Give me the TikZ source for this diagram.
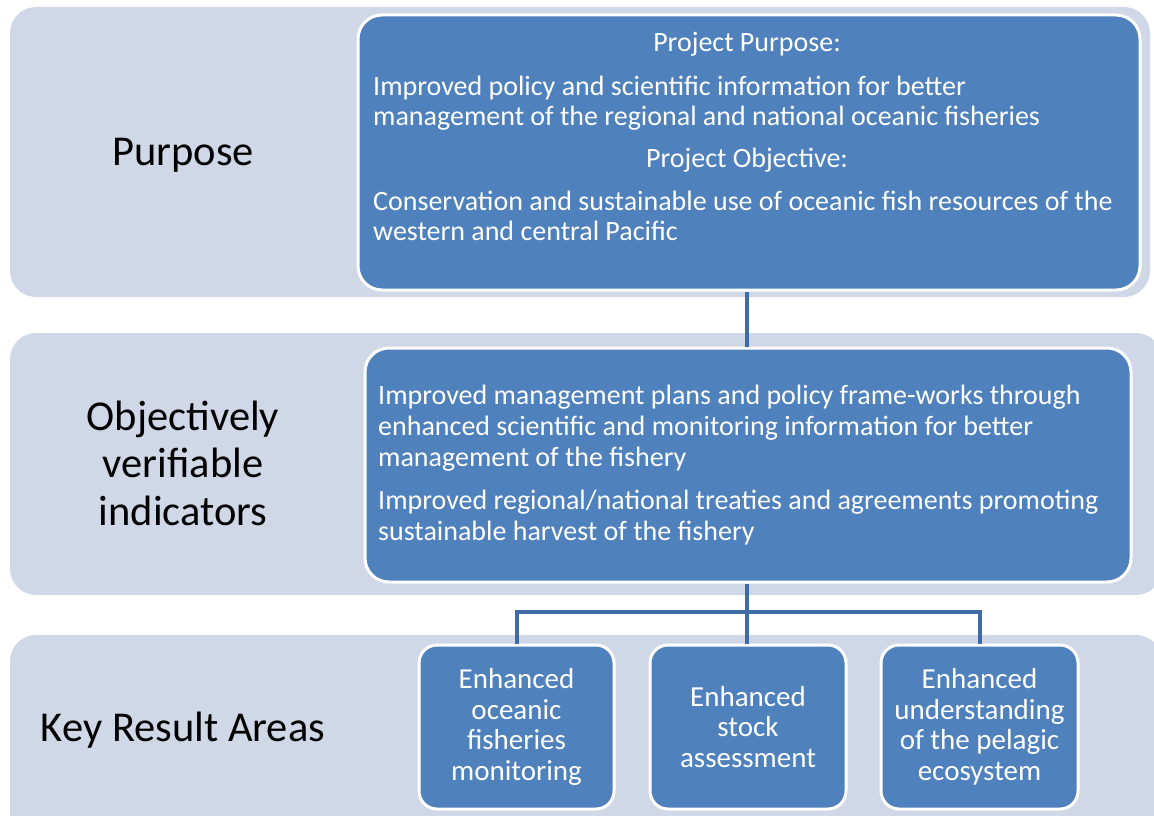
\documentclass[tikz,border=0pt]{standalone}
\usepackage{fontspec}
\setmainfont{Carlito}
\definecolor{bandfill}{RGB}{208,216,232}
\definecolor{boxfill}{RGB}{79,129,189}
\definecolor{linkcol}{RGB}{62,108,166}
\begin{document}
\begin{tikzpicture}[x=1pt,y=-1pt,
  band/.style={fill=bandfill, rounded corners=26pt},
  bluebox/.style={fill=boxfill, draw=white, line width=3pt, rounded corners=24pt},
  kbox/.style={fill=boxfill, draw=white, line width=3pt, rounded corners=18pt},
  link/.style={draw=linkcol, line width=4pt},
  wtxt/.style={text=white, font=\fontsize{28}{29.5}\selectfont, inner sep=0pt, anchor=base west, align=left},
  otxt/.style={text=white, font=\fontsize{28}{31}\selectfont, inner sep=0pt, anchor=base west, align=left},
  ktxt/.style={text=white, font=\fontsize{29}{30.5}\selectfont, inner sep=0pt, align=center},
  ltxt/.style={text=black, font=\fontsize{42.5}{47.5}\selectfont, inner sep=0pt, align=center}]
\useasboundingbox (0,0) rectangle (1154,816);
\clip (0,0) rectangle (1154,816);
% bands
\fill[band] (10,7) rectangle (1150,297);
\fill[band] (10,333) rectangle (1162,595);
\fill[band] (10,635) rectangle (1162,850);
% boxes
\node[bluebox, minimum width=782pt, minimum height=275pt, anchor=north west] (pp) at (356.5,13.5) {};
\node[bluebox, minimum width=766pt, minimum height=234pt, anchor=north west] (ovi) at (363.5,346.5) {};
\node[kbox, minimum width=195pt, minimum height=164pt, anchor=north west] (k1) at (417.5,643.5) {};
\node[kbox, minimum width=196pt, minimum height=164pt, anchor=north west] (k2) at (648.5,643.5) {};
\node[kbox, minimum width=197pt, minimum height=164pt, anchor=north west] (k3) at (879.5,643.5) {};
% connectors
\coordinate (jn) at (747,612);
\draw[link] (pp.south -| jn) -- (ovi.north -| jn);
\draw[link] (ovi.south -| jn) -- (jn);
\draw[link] (k1.north) |- (jn) -| (k3.north);
\draw[link] (jn) -- (k2.north -| jn);
% purpose texts
\node[wtxt, anchor=base] (pph) at (747,52) {Project Purpose:};
\node[wtxt] (ppt) at (373,125) {Improved policy and scientific information for better\\management of the regional and national oceanic fisheries};
\node[wtxt, anchor=base] (poh) at (747,167) {Project Objective:};
\node[wtxt] (pot) at (373,240) {Conservation and sustainable use of oceanic fish resources of the\\western and central Pacific};
% ovi texts
\node[otxt] (ov1) at (378,466) {Improved management plans and policy frame-works through\\enhanced scientific and monitoring information for better\\management of the fishery};
\node[otxt] (ov2) at (378,540) {Improved regional/national treaties and agreements promoting\\sustainable harvest of the fishery};
% kra texts
\node[ktxt] (t1) at (k1.center) {Enhanced\\oceanic\\fisheries\\monitoring};
\node[ktxt] (t2) at (k2.center) {Enhanced\\stock\\assessment};
\node[ktxt] (t3) at (k3.center) {Enhanced\\understanding\\of the pelagic\\ecosystem};
% left labels
\node[ltxt] (lp) at (183,155) {Purpose};
\node[ltxt] (lo) at (183,463) {Objectively\\verifiable\\indicators};
\node[ltxt] (lk) at (183,730) {Key Result Areas};
\end{tikzpicture}
\end{document}
